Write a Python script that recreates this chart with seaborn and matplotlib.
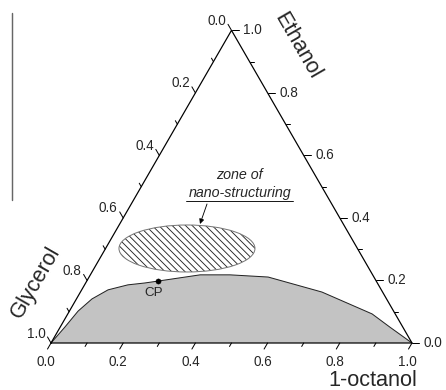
import numpy as np
import pandas as pd
import matplotlib
matplotlib.use("Agg")
import matplotlib.pyplot as plt
from matplotlib.patches import Ellipse
import seaborn as sns

# ---------------- data (ternary fractions) ----------------
boundary_octanol = [0.0, 0.013, 0.024, 0.043, 0.073, 0.120, 0.164, 0.197, 0.304, 0.387, 0.496, 0.669, 0.843, 0.913, 1.0]
boundary_ethanol = [0.0, 0.051, 0.102, 0.141, 0.170, 0.186, 0.192, 0.198, 0.218, 0.218, 0.211, 0.163, 0.093, 0.051, 0.0]
cp_octanol = [0.197]
cp_ethanol = [0.198]
tick_values = [round(0.1 * i, 1) for i in range(11)]
tick_labels = ["0.0", "0.2", "0.4", "0.6", "0.8", "1.0"]
axis_names = ["1-octanol", "Ethanol", "Glycerol"]
# zone of nano-structuring (ellipse, ternary centre)
zone_octanol = 0.2255
zone_ethanol = 0.3023

S3 = np.sqrt(3) / 2
PX = 1 / 361.0  # one pixel in data units
BS = chr(92)


def tern(o, e):
    o = np.asarray(o, float)
    e = np.asarray(e, float)
    return o + e / 2, e * S3


sns.set_theme(style="white")
plt.rcParams["font.family"] = ["Liberation Sans", "DejaVu Sans"]
plt.rcParams["hatch.linewidth"] = 0.8
plt.rcParams["hatch.color"] = "#222222"

DPI = 80
fig = plt.figure(figsize=(446 / DPI, 390 / DPI), dpi=DPI)
ax = fig.add_axes([0, 0, 1, 1])
ax.set_xlim(-51 * PX, 395 * PX)
ax.set_ylim(-47 * PX, 343 * PX)
ax.axis("off")

# two-phase region
bx, by = tern(boundary_octanol, boundary_ethanol)
df = pd.DataFrame({"x": bx, "y": by})
ax.fill(bx, by, color="#c3c3c3", zorder=1, lw=0)
sns.lineplot(data=df, x="x", y="y", sort=False, estimator=None, color="#222222",
             lw=0.9, ax=ax, zorder=2)

# triangle frame
vx, vy = tern([0, 1, 0, 0], [0, 0, 1, 0])
ax.plot(vx, vy, color="black", lw=1.1, zorder=4, solid_joinstyle="miter")

# ticks and labels
tick_kw = dict(color="black", lw=0.9, zorder=4)
fs_tick = 12.2
for i, v in enumerate(tick_values):
    major = i % 2 == 0
    L = (7 if major else 4) * PX
    # bottom (1-octanol)
    x0, y0 = tern(v, 0)
    ax.plot([x0, x0 - 0.5 * L], [y0, y0 - S3 * L], **tick_kw)
    # right (ethanol)
    x1, y1 = tern(1 - v, v)
    ax.plot([x1, x1 + L], [y1, y1], **tick_kw)
    # left (glycerol)
    x2, y2 = tern(0, 1 - v)
    ax.plot([x2, x2 - 0.5 * L], [y2, y2 + S3 * L], **tick_kw)
    if major:
        lab = tick_labels[i // 2]
        ax.text(x0 - 5 * PX, y0 - 19 * PX, lab, ha="center", va="center", fontsize=fs_tick)
        ax.text(x1 + 12 * PX, y1, lab, ha="left", va="center", fontsize=fs_tick)
        ax.text(x2 - 5.5 * PX, y2 + 9.5 * PX, lab, ha="right", va="center", fontsize=fs_tick)

# axis titles
fs_title = 19.5
ax.text(322 * PX, -38 * PX, axis_names[0], ha="center", va="center", fontsize=fs_title)
ax.text(246 * PX, 297 * PX, axis_names[1], ha="center", va="center", rotation=-60,
        fontsize=fs_title)
ax.text(-15 * PX, 61 * PX, axis_names[2], ha="center", va="center", rotation=60,
        fontsize=fs_title)

# critical point
cx, cy = tern(cp_octanol, cp_ethanol)
sns.scatterplot(x=cx, y=cy, color="black", s=22, ax=ax, zorder=5, edgecolor="black")
ax.text(cx[0] - 4 * PX, cy[0] - 12 * PX, "CP", ha="center", va="center", fontsize=12)

# zone of nano-structuring
zx, zy = tern(zone_octanol, zone_ethanol)
zw, zh = 136 * PX, 47 * PX
ax.add_patch(Ellipse((float(zx), float(zy)), zw, zh, facecolor="white", edgecolor="#222222",
                     hatch=BS * 4, lw=0, zorder=3))
ax.add_patch(Ellipse((float(zx), float(zy)), zw, zh, facecolor="none", edgecolor="#777777",
                     lw=0.9, zorder=3))

fs_ann = 12.8
ax.text(188 * PX, 168 * PX, "zone of", ha="center", va="center", style="italic", fontsize=fs_ann)
ax.text(189 * PX, 150 * PX, "nano-structuring", ha="center", va="center", style="italic",
        fontsize=fs_ann)
ax.plot([135 * PX, 242 * PX], [142 * PX, 142 * PX], color="black", lw=0.8)
ax.annotate("", xy=(149 * PX, 119 * PX), xytext=(156 * PX, 139 * PX),
            arrowprops=dict(arrowstyle="-|>", color="black", lw=0.8,
                            mutation_scale=9, shrinkA=0, shrinkB=0))

# stray vertical rule at left edge
ax.plot([-39 * PX, -39 * PX], [143 * PX, 330 * PX], color="#666666", lw=1.3)

fig.savefig("out.png", dpi=DPI)
